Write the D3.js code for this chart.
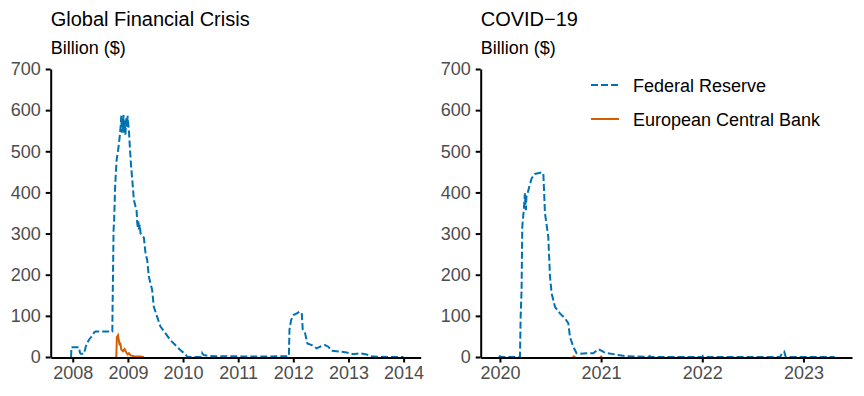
<!DOCTYPE html>
<html>
<head>
<meta charset="utf-8">
<script src="https://cdn.jsdelivr.net/npm/d3@7"></script>
<style>
  html, body { margin: 0; padding: 0; background: #fff; }
  svg { display: block; font-family: "Liberation Sans", Arial, Helvetica, sans-serif; }
</style>
</head>
<body>
<svg id="chart" width="864" height="396"></svg>
<script>
// ---- Data (decimal year, billion $) ----
const panelTitles = ["Global Financial Crisis", "COVID\u221219"];
const yUnit = "Billion ($)";
const yTicks = [0, 100, 200, 300, 400, 500, 600, 700];
const xTicksGFC = [2008, 2009, 2010, 2011, 2012, 2013, 2014];
const xTicksCOVID = [2020, 2021, 2022, 2023];
const seriesNames = ["Federal Reserve", "European Central Bank"];

const fedGFC = [
  [2007.97,0],[2007.976,24],[2008.115,24],[2008.13,10],[2008.145,8],[2008.205,8],
  [2008.235,25],[2008.265,35],[2008.295,42],[2008.33,48],[2008.356,53],[2008.39,60],
  [2008.416,62],[2008.718,62],[2008.722,120],[2008.73,200],[2008.74,309],[2008.75,330],
  [2008.77,420],[2008.796,479],[2008.82,500],[2008.838,519],[2008.855,540],[2008.868,560],
  [2008.88,586],[2008.89,545],[2008.9,580],[2008.91,550],[2008.92,588],[2008.93,545],
  [2008.94,575],[2008.955,540],[2008.97,580],[2008.985,560],[2008.995,586],[2009.01,560],
  [2009.018,552],[2009.04,500],[2009.06,460],[2009.08,430],[2009.108,382],[2009.14,365],
  [2009.157,357],[2009.17,325],[2009.18,315],[2009.19,330],[2009.2,310],[2009.215,322],
  [2009.23,300],[2009.26,295],[2009.29,290],[2009.32,252],[2009.35,236],[2009.38,195],
  [2009.44,163],[2009.47,122],[2009.53,98],[2009.59,74],[2009.68,58],[2009.77,41],
  [2009.86,29],[2009.95,17],[2010.04,7],[2010.08,0],[2010.34,0],[2010.35,9],[2010.37,5],
  [2010.45,3],[2010.6,2],[2011.0,1.5],[2011.5,1],[2011.76,2],[2011.92,2],[2011.93,66],
  [2011.96,90],[2012.003,102],[2012.063,106],[2012.11,110],[2012.153,107],[2012.171,66],
  [2012.213,58],[2012.255,33],[2012.334,29],[2012.424,21],[2012.485,25],[2012.575,29],
  [2012.635,25],[2012.696,15],[2012.846,13],[2012.967,11],[2013.087,7],[2013.208,9],
  [2013.329,6],[2013.42,2],[2013.51,0.5],[2014.0,0]
];

const ecbGFC = [
  [2008.79,0],[2008.80,48],[2008.82,53],[2008.837,40],[2008.85,28],[2008.862,35],
  [2008.88,18],[2008.91,14],[2008.94,19],[2008.967,12],[2008.995,6],[2009.018,9],
  [2009.05,4],[2009.11,2],[2009.23,1],[2009.29,0]
];

const fedCOVID = [
  [2019.99,0],[2020.0,2],[2020.01,0],[2020.198,0],[2020.205,100],[2020.214,163],
  [2020.221,317],[2020.237,361],[2020.247,398],[2020.252,370],[2020.257,357],[2020.262,390],
  [2020.27,394],[2020.29,414],[2020.313,434],[2020.346,445],[2020.396,448],[2020.429,447],
  [2020.437,400],[2020.445,350],[2020.478,292],[2020.495,195],[2020.511,155],[2020.544,122],
  [2020.593,106],[2020.643,94],[2020.676,82],[2020.692,49],[2020.725,25],[2020.758,9],
  [2020.791,8],[2020.857,9],[2020.923,9],[2020.973,19],[2021.007,15],[2021.039,10],
  [2021.121,7],[2021.187,4],[2021.253,2],[2021.352,1],[2021.5,0],[2022.0,0],[2022.005,2],
  [2022.01,0],[2022.77,0],[2022.79,10],[2022.81,13],[2022.825,0],[2023.31,0]
];

const ecbCOVID = [
  [2020.72,0],[2020.73,1.5],[2020.745,0], null,
  [2020.99,0],[2021.0,1.5],[2021.01,0], null,
  [2021.47,0],[2021.48,3],[2021.5,0]
];

// ---- Styles ----
const BLUE = "#0072B2", ORANGE = "#D55E00", GREY = "#4D4D4D";
const svg = d3.select("#chart");

const y = d3.scaleLinear().domain([0, 700]).range([357, 69]);

const panels = [
  { title: panelTitles[0], x: d3.scaleLinear().domain([2007.6, 2014.31]).range([50.7, 420.7]),
    ticks: xTicksGFC, fed: fedGFC, ecb: ecbGFC },
  { title: panelTitles[1], x: d3.scaleLinear().domain([2019.81, 2023.48]).range([480.7, 852]),
    ticks: xTicksCOVID, fed: fedCOVID, ecb: ecbCOVID }
];

panels.forEach((p, i) => {
  const x0 = p.x.range()[0];
  const g = svg.append("g");

  g.append("text").attr("x", x0).attr("y", 25.5)
    .attr("font-size", 20).attr("fill", "#000").text(p.title);
  g.append("text").attr("x", x0).attr("y", 54)
    .attr("font-size", 18).attr("fill", "#000").text(yUnit);

  const line = d3.line().defined(d => d !== null).x(d => p.x(d[0])).y(d => y(d[1]));

  g.append("path").datum(p.ecb).attr("d", line)
    .attr("fill", "none").attr("stroke", ORANGE).attr("stroke-width", 2);
  g.append("path").datum(p.fed).attr("d", line)
    .attr("fill", "none").attr("stroke", BLUE).attr("stroke-width", 2)
    .attr("stroke-dasharray", "7,3");

  // y axis
  const ya = g.append("g").attr("transform", `translate(${x0},0)`)
    .call(d3.axisLeft(y).tickValues(yTicks).tickSize(5).tickSizeOuter(0).tickPadding(5));
  // x axis
  const xa = g.append("g").attr("transform", `translate(0,357.5)`)
    .call(d3.axisBottom(p.x).tickValues(p.ticks).tickFormat(d3.format("d"))
      .tickSize(5).tickSizeOuter(0).tickPadding(4));
  [ya, xa].forEach(a => {
    a.select(".domain").attr("stroke", "#000").attr("stroke-width", 2);
    a.selectAll(".tick line").attr("stroke", "#000").attr("stroke-width", 2);
    a.selectAll(".tick text").attr("fill", GREY).attr("font-size", 18)
      .attr("font-family", '"Liberation Sans", Arial, sans-serif');
  });
});

// legend
const leg = svg.append("g");
const legItems = [
  { name: seriesNames[0], color: BLUE, dash: "7,3", y: 85 },
  { name: seriesNames[1], color: ORANGE, dash: null, y: 119 }
];
legItems.forEach(it => {
  leg.append("line").attr("x1", 591).attr("x2", 619).attr("y1", it.y).attr("y2", it.y)
    .attr("stroke", it.color).attr("stroke-width", 2)
    .attr("stroke-dasharray", it.dash);
  leg.append("text").attr("x", 633).attr("y", it.y + 6.5)
    .attr("font-size", 18).attr("fill", "#000").text(it.name);
});
</script>
</body>
</html>
